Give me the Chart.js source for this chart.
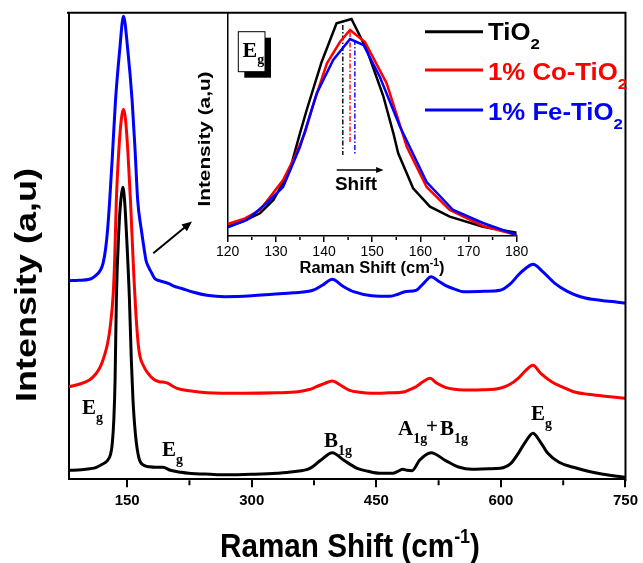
<!DOCTYPE html>
<html>
<head>
<meta charset="utf-8">
<script src="https://cdn.jsdelivr.net/npm/chart.js@4.4.1/dist/chart.umd.min.js"></script>
<style>
  body { margin: 0; background: #fff; }
  #wrap { position: relative; width: 643px; height: 563px; }
  #wrap canvas { position: absolute; top: 0; }
</style>
</head>
<body>
<div id="wrap">
  <canvas id="main" width="643" height="563" style="left:0"></canvas>
  <canvas id="inset" width="350" height="290" style="left:190px"></canvas>
</div>
<script>
// ---- data (intensity in arbitrary units) ----
var tio2X = [80, 95, 105, 113, 120, 126.5, 130, 132, 134, 135.5, 137, 140, 142.5, 144.8, 147, 149, 152.8, 155, 157, 160, 164, 170, 177, 184, 193, 202, 215, 224, 250, 270, 300, 330, 350, 370, 383, 397, 411, 427, 440, 454, 470, 476, 482, 487, 493, 502, 516, 533, 550, 565, 585, 599, 612, 621, 630, 638.6, 647, 656.5, 670, 687.5, 705, 723, 740, 750];
var tio2Y = [9, 9.5, 10.5, 12, 15, 19, 25, 35, 60, 100, 179, 249, 280, 292, 278, 249, 179, 120, 80, 45, 22, 14, 12.5, 12, 12, 9, 7, 6, 5, 4.5, 5, 6, 7.5, 11, 19, 26.6, 19, 11, 8, 6, 6, 8, 10, 9, 8.6, 19, 26.6, 19, 12, 10, 10.5, 11, 16, 26, 38, 46, 38, 26, 17, 12, 8, 5, 3, 2];

var coX = [80, 92, 104.6, 112, 117.8, 122, 126.5, 130, 133.2, 135, 137, 140, 143, 145.6, 148, 150.8, 154, 157.6, 161, 164.2, 170, 175.2, 182, 188.6, 195, 199.4, 205, 210, 225, 246, 290, 330, 356, 368, 378, 388, 397, 407, 418, 430, 444.6, 465, 484.4, 491, 497.8, 506, 514.5, 523, 533, 544, 555, 580, 599, 611, 620.7, 630, 638.6, 648, 661, 675, 687.5, 705, 722.8, 738, 750];
var coY = [92.6, 95, 99.3, 105, 112.6, 122, 136, 155, 185, 220, 279, 329, 360, 370, 360, 329, 279, 212, 160, 129, 113, 106, 100, 97.6, 97, 96, 93, 91, 88.5, 86.6, 86, 86.5, 87.6, 89.5, 92.6, 96, 98.3, 94, 89, 87, 86, 86.5, 87.6, 90, 92.6, 97.5, 101, 96, 92, 90, 89.3, 89.5, 91, 95, 101, 109, 114, 106, 97.6, 92, 87.6, 85, 83.3, 82, 81];

var feX = [80, 92, 104.6, 111, 117.8, 121, 124, 126.5, 129, 132, 136, 141, 145.6, 150.8, 156, 159.5, 162.7, 167, 170.7, 172.7, 176, 179.7, 183, 188.6, 199.4, 207, 215, 230, 246, 268, 300, 325, 350, 373.6, 385, 397, 410, 422.6, 444.6, 466.7, 476, 484.4, 497.8, 507, 516, 525, 533, 545, 555, 580, 599, 612, 620.7, 630, 638.6, 650, 665, 680, 695.8, 710, 722.8, 737, 750];
var feY = [198.6, 199, 200, 203, 209, 216, 230, 250, 279, 320, 379, 429, 463, 429, 379, 330, 279, 250, 229, 219, 212, 206, 201, 198.6, 196, 193, 191, 187, 184, 182.6, 183.5, 185, 186.5, 189, 194, 200, 193, 187.6, 183.6, 183, 185, 187.6, 189, 196, 202.6, 198, 194, 190, 187.6, 188, 189, 196, 204, 211, 215, 208, 196, 188, 182.6, 180, 178.6, 177.5, 176];

// inset: Eg band around 144 cm-1
var inTio2X = [120, 123.3, 126.7, 129.5, 132.9, 135, 136.4, 139.5, 142.6, 145.7, 148.9, 152.3, 154.4, 155.4, 158.5, 162, 166.1, 173, 180];
var inTio2Y = [9.3, 15, 22.7, 36, 66, 102.7, 126, 174, 212.7, 217, 186, 140, 102.7, 82.7, 47.7, 29.3, 19.3, 9.3, 3.3];
var inCoX = [120, 123.3, 126.7, 131.5, 134, 136, 138, 140.6, 143.3, 145.4, 148.5, 153, 157.2, 161.3, 166.1, 173, 180];
var inCoY = [12, 17, 26, 56, 80, 102.7, 135, 172.7, 194, 206, 194, 152.7, 89, 49, 26, 10, 1];
var inFeX = [120, 124, 128.1, 131.5, 135, 138.5, 141.9, 145.4, 148.2, 151.6, 155.8, 161.3, 166.8, 173, 180];
var inFeY = [8.7, 16, 33, 49, 89, 142.7, 176, 197, 191, 159, 109, 54, 26, 13, 1];
var dropX = [143.9, 145.4, 146.4];
var dropTop = [211, 204, 196];
var dropBottom = [81, 93, 81];

var seriesNames = ['TiO', '1% Co-TiO', '1% Fe-TiO'];
var seriesColors = ['#000000', '#ff0000', '#0000ff'];
var xTicks = [150, 300, 450, 600, 750];
var xMinor = [225, 375, 525, 675];
var insetTicks = [120, 130, 140, 150, 160, 170, 180];
var insetMinor = [125, 135, 145, 155, 165, 175];

var SANS = "'Liberation Sans', Arial, sans-serif";
var SERIF = "'Liberation Serif', 'Times New Roman', serif";

function pts(xs, ys) {
  return xs.map(function (x, i) { return { x: x, y: ys[i] }; });
}

// draws text runs [text, font, dy]; o = {color, sx, fitW, align, rot}
function drawRich(ctx, parts, x, y, o) {
  ctx.save();
  ctx.fillStyle = o.color || '#000';
  ctx.textBaseline = 'alphabetic';
  ctx.textAlign = 'left';
  var w = 0;
  parts.forEach(function (p) { ctx.font = p[1]; w += ctx.measureText(p[0]).width; });
  var sx = o.fitW ? o.fitW / w : (o.sx || 1);
  ctx.translate(x, y);
  if (o.rot) ctx.rotate(-Math.PI / 2);
  ctx.scale(sx, 1);
  var cx = o.align === 'center' ? -w / 2 : 0;
  parts.forEach(function (p) {
    ctx.font = p[1];
    ctx.fillText(p[0], cx, p[2] || 0);
    cx += ctx.measureText(p[0]).width;
  });
  ctx.restore();
  return w * sx;
}

function arrow(ctx, x1, y1, x2, y2, lw, head) {
  var ang = Math.atan2(y2 - y1, x2 - x1);
  ctx.save();
  ctx.strokeStyle = '#000'; ctx.fillStyle = '#000'; ctx.lineWidth = lw;
  ctx.beginPath();
  ctx.moveTo(x1, y1);
  ctx.lineTo(x2 - Math.cos(ang) * head * 0.8, y2 - Math.sin(ang) * head * 0.8);
  ctx.stroke();
  ctx.beginPath();
  ctx.moveTo(x2, y2);
  ctx.lineTo(x2 - head * Math.cos(ang - 0.4), y2 - head * Math.sin(ang - 0.4));
  ctx.lineTo(x2 - head * Math.cos(ang + 0.4), y2 - head * Math.sin(ang + 0.4));
  ctx.closePath();
  ctx.fill();
  ctx.restore();
}

var mainDecor = {
  id: 'mainDecor',
  afterDraw: function (chart) {
    var ctx = chart.ctx, a = chart.chartArea, xs = chart.scales.x;
    ctx.save();
    ctx.strokeStyle = '#000';
    ctx.lineWidth = 2;
    ctx.beginPath();
    ctx.moveTo(a.left - 2, a.top);
    ctx.lineTo(a.right, a.top);
    ctx.lineTo(a.right, a.bottom + 2);
    xMinor.forEach(function (v) {
      var px = xs.getPixelForValue(v);
      ctx.moveTo(px, a.bottom + 1);
      ctx.lineTo(px, a.bottom + 6);
    });
    ctx.stroke();
    ctx.restore();

    // axis titles
    var f33 = 'bold 33px ' + SANS;
    drawRich(ctx, [['Raman Shift (cm', f33], ['-1', 'bold 20px ' + SANS, -14], [')', f33]], 350, 557, { fitW: 260, align: 'center' });
    drawRich(ctx, [['Intensity (a,u)', 'bold 30px ' + SANS]], 36, 285, { fitW: 234, align: 'center', rot: true });

    // legend
    var ly = [31.7, 70, 110];
    var lt = [40, 80, 120];
    for (var i = 0; i < 3; i++) {
      ctx.save();
      ctx.strokeStyle = seriesColors[i];
      ctx.lineWidth = 3;
      ctx.beginPath();
      ctx.moveTo(425, ly[i]);
      ctx.lineTo(483, ly[i]);
      ctx.stroke();
      ctx.restore();
      drawRich(ctx, [[seriesNames[i], 'bold 23px ' + SANS], ['2', 'bold 15px ' + SANS, 9]], 488, lt[i], { color: seriesColors[i], sx: 1.12 });
    }

    // peak labels
    var big = 'bold 21px ' + SERIF, sub = 'bold 14px ' + SERIF;
    drawRich(ctx, [['E', big], ['g', sub, 8]], 82, 414, {});
    drawRich(ctx, [['E', big], ['g', sub, 8]], 162, 456, {});
    drawRich(ctx, [['B', big], ['1g', sub, 8]], 324, 447, {});
    drawRich(ctx, [['A', big], ['1g', sub, 8]], 398, 435, {});
    drawRich(ctx, [['+', big]], 426, 433, {});
    drawRich(ctx, [['B', big], ['1g', sub, 8]], 440, 435, {});
    drawRich(ctx, [['E', big], ['g', sub, 8]], 531, 420, {});

    arrow(ctx, 153.3, 253.3, 192, 221.5, 2, 11);
  }
};

var insetDecor = {
  id: 'insetDecor',
  afterDraw: function (chart) {
    var ctx = chart.ctx, a = chart.chartArea, xs = chart.scales.x;
    ctx.save();
    ctx.strokeStyle = '#000';
    ctx.lineWidth = 1.5;
    ctx.beginPath();
    insetMinor.forEach(function (v) {
      var px = xs.getPixelForValue(v);
      ctx.moveTo(px, a.bottom + 1);
      ctx.lineTo(px, a.bottom + 4);
    });
    ctx.stroke();

    // Eg box with shadow
    ctx.fillStyle = '#000';
    ctx.fillRect(54.3, 37.7, 26.7, 40);
    ctx.fillStyle = '#fff';
    ctx.fillRect(48.3, 31.7, 26.7, 40);
    ctx.lineWidth = 1;
    ctx.strokeRect(48.3, 31.7, 26.7, 40);
    ctx.restore();
    drawRich(ctx, [['E', 'bold 22px ' + SERIF], ['g', 'bold 14px ' + SERIF, 7]], 52.5, 57, {});

    // shift arrow
    arrow(ctx, 146.7, 170, 193.5, 170, 1.5, 8);
    drawRich(ctx, [['Shift', 'bold 18px ' + SANS]], 166, 190, { align: 'center', fitW: 42 });

    // axis titles
    var f16 = 'bold 16px ' + SANS;
    drawRich(ctx, [['Raman Shift (cm', f16], ['-1', 'bold 10px ' + SANS, -7], [')', f16]], 182, 273, { fitW: 145, align: 'center' });
    drawRich(ctx, [['Intensity (a,u)', 'bold 17px ' + SANS]], 19.7, 139, { fitW: 135, align: 'center', rot: true });
  }
};

var lineStyle = { borderWidth: 3, pointRadius: 0, fill: false, cubicInterpolationMode: 'monotone' };

new Chart(document.getElementById('main'), {
  type: 'line',
  data: {
    datasets: [
      Object.assign({ label: 'TiO2', data: pts(tio2X, tio2Y), borderColor: seriesColors[0] }, lineStyle),
      Object.assign({ label: '1% Co-TiO2', data: pts(coX, coY), borderColor: seriesColors[1] }, lineStyle),
      Object.assign({ label: '1% Fe-TiO2', data: pts(feX, feY), borderColor: seriesColors[2] }, lineStyle)
    ]
  },
  options: {
    responsive: false,
    animation: false,
    devicePixelRatio: 1,
    layout: { padding: { left: 69, right: 12.3, top: 12.7, bottom: 49.7 } },
    plugins: { legend: { display: false }, tooltip: { enabled: false } },
    scales: {
      x: {
        type: 'linear', min: 80, max: 750,
        afterBuildTicks: function (s) { s.ticks = xTicks.map(function (v) { return { value: v }; }); },
        afterFit: function (s) { s.height = 34; },
        grid: { display: true, drawOnChartArea: false, drawTicks: true, tickLength: 8, lineWidth: 2, color: '#000' },
        border: { display: true, color: '#000', width: 2 },
        ticks: { font: { family: SANS, size: 15, weight: 'bold' }, color: '#000', padding: 5, maxRotation: 0, autoSkip: false }
      },
      y: {
        min: 0, max: 466.6,
        afterFit: function (s) { s.width = 0; },
        ticks: { display: false },
        grid: { display: false },
        border: { display: true, color: '#000', width: 2 }
      }
    }
  },
  plugins: [mainDecor]
});

var inStyle = { borderWidth: 2.5, pointRadius: 0, fill: false, tension: 0 };
var drops = dropX.map(function (x, i) {
  return {
    data: [{ x: x, y: dropTop[i] }, { x: x, y: dropBottom[i] }],
    borderColor: seriesColors[i], borderWidth: 1.4, pointRadius: 0, borderDash: [5, 2, 1.5, 2]
  };
});

new Chart(document.getElementById('inset'), {
  type: 'line',
  data: {
    datasets: [
      Object.assign({ data: pts(inFeX, inFeY), borderColor: seriesColors[2] }, inStyle),
      Object.assign({ data: pts(inCoX, inCoY), borderColor: seriesColors[1] }, inStyle),
      Object.assign({ data: pts(inTio2X, inTio2Y), borderColor: seriesColors[0] }, inStyle)
    ].concat(drops)
  },
  options: {
    responsive: false,
    animation: false,
    devicePixelRatio: 1,
    layout: { padding: { left: 37.7, right: 23.3, top: 12.7, bottom: 24 } },
    plugins: { legend: { display: false }, tooltip: { enabled: false } },
    scales: {
      x: {
        type: 'linear', min: 120, max: 180,
        afterBuildTicks: function (s) { s.ticks = insetTicks.map(function (v) { return { value: v }; }); },
        afterFit: function (s) { s.height = 30; },
        grid: { display: true, drawOnChartArea: false, drawTicks: true, tickLength: 6, lineWidth: 1.5, color: '#000' },
        border: { display: true, color: '#000', width: 1.5 },
        ticks: { font: { family: SANS, size: 14 }, color: '#000', padding: 2, maxRotation: 0, autoSkip: false }
      },
      y: {
        min: 0, max: 223.3,
        afterFit: function (s) { s.width = 0; },
        ticks: { display: false },
        grid: { display: false },
        border: { display: true, color: '#000', width: 1.5 }
      }
    }
  },
  plugins: [insetDecor]
});
</script>
</body>
</html>
